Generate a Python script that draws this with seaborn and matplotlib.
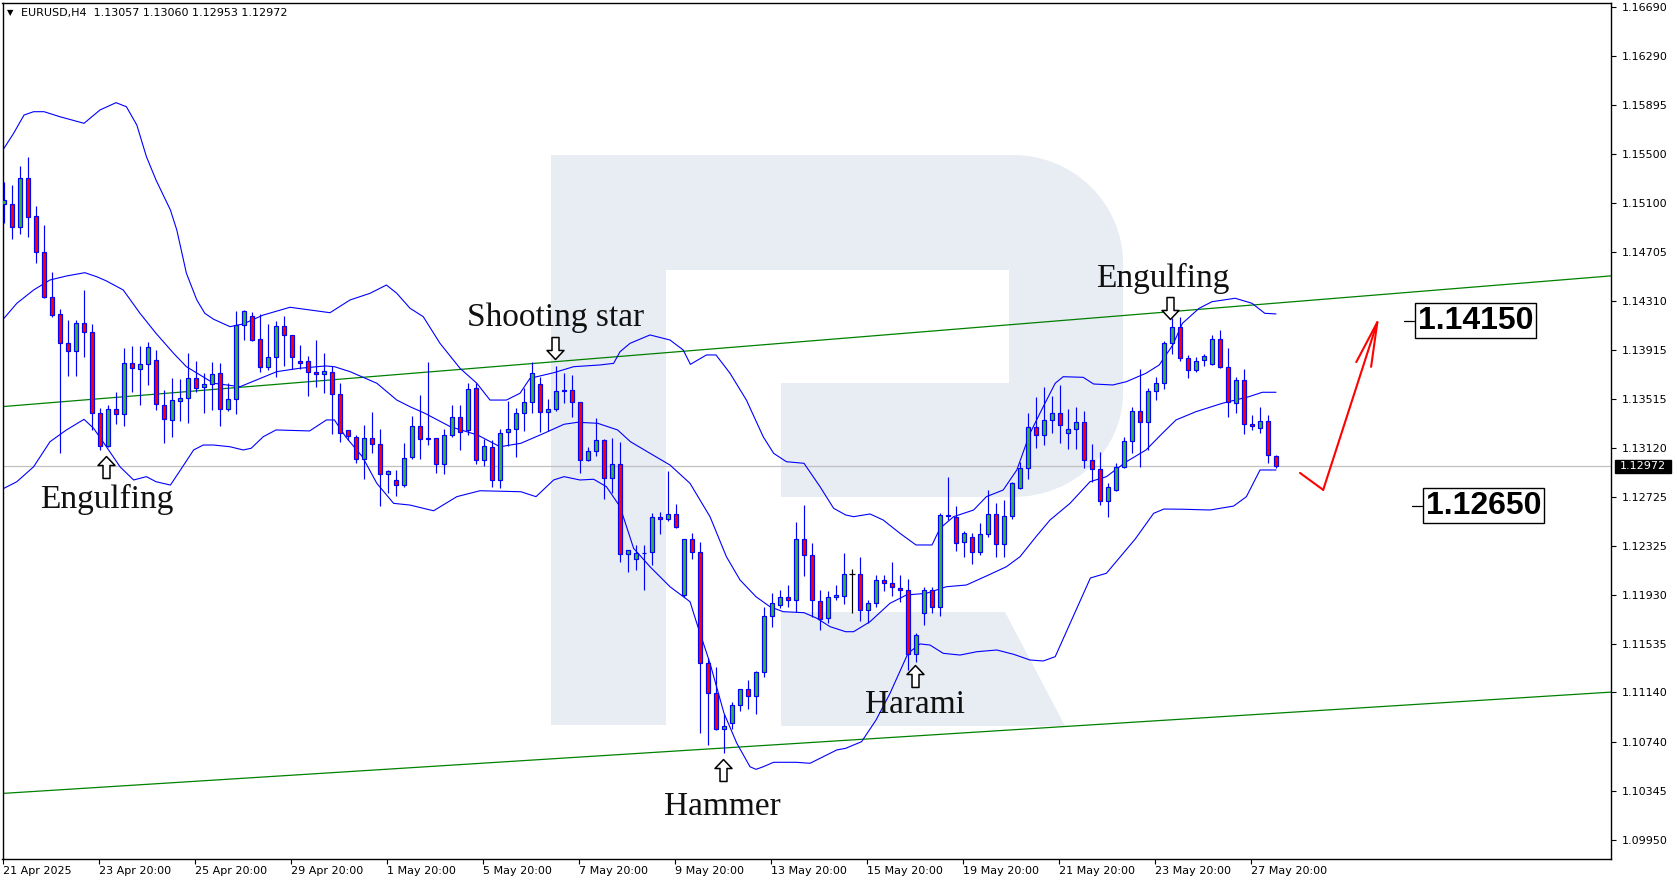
import numpy as np
import matplotlib
matplotlib.use("Agg")
import matplotlib.pyplot as plt
import seaborn as sns
from matplotlib.path import Path
from matplotlib.patches import PathPatch, Rectangle
from matplotlib.transforms import Affine2D, blended_transform_factory

# ---------------- data (EURUSD H4) ----------------
opens = [1.15094,1.15091,1.14905,1.15302,1.14994,1.14703,1.14339,1.14201,1.13966,1.13902,
         1.14128,1.14055,1.13400,1.13135,1.13432,1.13392,1.13804,1.13761,1.13796,1.13829,
         1.13467,1.13343,1.13502,1.13521,1.13683,1.13610,1.13637,1.13724,1.13432,1.13513,
         1.14112,1.14185,1.13999,1.13777,1.13853,1.14104,1.14031,1.13821,1.13821,1.13732,
         1.13715,1.13732,1.13553,1.13262,1.13210,1.13027,1.13197,1.13149,1.12908,1.12860,
         1.12817,1.13044,1.13297,1.13189,1.13197,1.12989,1.13222,1.13372,1.13265,1.13602,
         1.13022,1.13127,1.12860,1.13246,1.13270,1.13400,1.13489,1.13635,1.13408,1.13432,
         1.13580,1.13588,1.13489,1.13019,1.13097,1.13181,1.12874,1.12992,1.12259,1.12218,
         1.12267,1.12275,1.12558,1.12542,1.12585,1.11927,1.12380,1.12275,1.11376,1.11133,
         1.10842,1.10891,1.11036,1.11166,1.11114,1.11306,1.11759,1.11846,1.11915,1.11889,
         1.12380,1.12250,1.11883,1.11741,1.11910,1.11923,1.12097,1.12097,1.11808,1.11862,
         1.12051,1.12024,1.11983,1.11970,1.11449,1.11781,1.11970,1.11834,1.12577,1.12563,
         1.12358,1.12401,1.12275,1.12420,1.12585,1.12342,1.12569,1.12793,1.12955,1.13286,
         1.13224,1.13346,1.13400,1.13238,1.13270,1.13327,1.13022,1.12947,1.12690,1.12779,
         1.12967,1.13173,1.13418,1.13332,1.13580,1.13643,1.13966,1.14100,1.13845,1.13750,
         1.13831,1.13796,1.13999,1.13777,1.13481,1.13669,1.13311,1.13278,1.13340,1.13057]
highs = [1.15272,1.15248,1.15401,1.15472,1.15078,1.14924,1.14541,1.14242,1.14155,1.14155,
         1.14398,1.14120,1.13440,1.13467,1.13570,1.13931,1.13945,1.13945,1.13974,1.13912,
         1.13588,1.13683,1.13675,1.13885,1.13823,1.13724,1.13817,1.13804,1.13647,1.14228,
         1.14235,1.14220,1.14204,1.14123,1.14147,1.14187,1.14035,1.13953,1.13864,1.13993,
         1.13885,1.13783,1.13643,1.13265,1.13222,1.13305,1.13408,1.13273,1.12941,1.12941,
         1.13162,1.13378,1.13545,1.13813,1.13200,1.13270,1.13467,1.13467,1.13643,1.13643,
         1.13189,1.13184,1.13270,1.13499,1.13445,1.13607,1.13813,1.13696,1.13513,1.13783,
         1.13728,1.13710,1.13492,1.13129,1.13359,1.13189,1.13200,1.13165,1.12296,1.12334,
         1.12334,1.12595,1.12603,1.12933,1.12666,1.12385,1.12433,1.12358,1.11417,1.11349,
         1.10966,1.11063,1.11170,1.11241,1.11316,1.11834,1.11943,1.11970,1.12010,1.12518,
         1.12657,1.12348,1.11970,1.11964,1.12010,1.12271,1.12137,1.12237,1.11889,1.12091,
         1.12091,1.12199,1.12091,1.12059,1.11619,1.11991,1.11991,1.12590,1.12887,1.12649,
         1.12450,1.12428,1.12514,1.12779,1.12671,1.12698,1.12846,1.13008,1.13400,1.13529,
         1.13615,1.13540,1.13629,1.13432,1.13453,1.13418,1.13151,1.13084,1.12833,1.13000,
         1.13210,1.13453,1.13756,1.13602,1.13691,1.13985,1.14169,1.14182,1.13872,1.13853,
         1.13880,1.14034,1.14074,1.13926,1.13691,1.13756,1.13386,1.13448,1.13386,1.13060]
lows = [1.14940,1.14813,1.14851,1.14829,1.14614,1.14331,1.14177,1.13076,1.13704,1.13704,
        1.13858,1.13265,1.13103,1.13129,1.13313,1.13299,1.13575,1.13467,1.13629,1.13427,
        1.13157,1.13210,1.13340,1.13324,1.13575,1.13400,1.13427,1.13297,1.13420,1.13392,
        1.13993,1.13987,1.13737,1.13750,1.13696,1.13783,1.13756,1.13756,1.13542,1.13615,
        1.13562,1.13230,1.13165,1.13184,1.12995,1.12870,1.13076,1.12652,1.12752,1.12733,
        1.12806,1.13027,1.13027,1.13143,1.12919,1.12908,1.13210,1.13103,1.13224,1.12987,
        1.12976,1.12806,1.12793,1.13138,1.13048,1.13259,1.13400,1.13251,1.13259,1.13420,
        1.13481,1.13367,1.12914,1.13010,1.13057,1.12704,1.12752,1.12199,1.12118,1.12131,
        1.11970,1.12172,1.12423,1.12531,1.12469,1.11915,1.12218,1.10815,1.10715,1.10836,
        1.10653,1.10845,1.10990,1.11009,1.10964,1.11268,1.11673,1.11821,1.11830,1.11794,
        1.12085,1.11753,1.11646,1.11700,1.11889,1.11854,1.11786,1.11721,1.11700,1.11834,
        1.11964,1.11923,1.11875,1.11322,1.11389,1.11686,1.11781,1.11759,1.12536,1.12288,
        1.12234,1.12178,1.12253,1.12401,1.12234,1.12239,1.12544,1.12785,1.12866,1.13117,
        1.13143,1.13238,1.13157,1.13111,1.13111,1.12955,1.12846,1.12657,1.12558,1.12770,
        1.12960,1.13076,1.12967,1.13103,1.13507,1.13594,1.13877,1.13826,1.13688,1.13737,
        1.13783,1.13791,1.13769,1.13367,1.13405,1.13230,1.13265,1.13238,1.13000,1.12953]
closes = [1.15126,1.14905,1.15302,1.14991,1.14703,1.14339,1.14193,1.13966,1.13902,1.14128,
          1.14055,1.13400,1.13135,1.13432,1.13392,1.13804,1.13764,1.13796,1.13934,1.13473,
          1.13351,1.13507,1.13521,1.13683,1.13602,1.13637,1.13715,1.13432,1.13513,1.14112,
          1.14230,1.13993,1.13777,1.13853,1.14104,1.14031,1.13853,1.13809,1.13732,1.13715,
          1.13740,1.13553,1.13243,1.13216,1.13027,1.13197,1.13151,1.12908,1.12933,1.12817,
          1.13035,1.13297,1.13189,1.13197,1.12989,1.13222,1.13372,1.13251,1.13594,1.13022,
          1.13138,1.12860,1.13238,1.13270,1.13400,1.13489,1.13724,1.13408,1.13432,1.13580,
          1.13586,1.13489,1.13019,1.13097,1.13181,1.12874,1.12992,1.12259,1.12293,1.12267,
          1.12272,1.12558,1.12542,1.12585,1.12477,1.12380,1.12275,1.11376,1.11133,1.10842,
          1.10871,1.11036,1.11166,1.11114,1.11306,1.11759,1.11867,1.11915,1.11889,1.12380,
          1.12250,1.11889,1.11732,1.11910,1.11927,1.12097,1.12097,1.11808,1.11862,1.12051,
          1.12024,1.11991,1.11970,1.11449,1.11605,1.11970,1.11834,1.12577,1.12571,1.12348,
          1.12428,1.12275,1.12420,1.12585,1.12342,1.12569,1.12833,1.12955,1.13286,1.13224,
          1.13346,1.13400,1.13303,1.13270,1.13327,1.13022,1.12947,1.12690,1.12801,1.12967,
          1.13173,1.13418,1.13332,1.13580,1.13643,1.13966,1.14096,1.13845,1.13750,1.13826,
          1.13866,1.13999,1.13777,1.13489,1.13669,1.13311,1.13297,1.13340,1.13062,1.12972]

# Bollinger bands: (bar position, price)
bb_upper = [(0,1.15545),(1.2,1.15666),(2.5,1.15814),(3.7,1.15841),(5,1.15841),(7,1.15800),
            (10,1.15747),(12,1.15855),(14,1.15914),(15.3,1.15881),(16.6,1.15733),(17.8,1.15477),
            (19,1.15288),(20.8,1.15045),(21.6,1.14883),(22.8,1.14533),(24.1,1.14317),(25.1,1.14209),
            (26.2,1.14161),(28.25,1.14101),(29.9,1.14123),(32.4,1.14195),(35.75,1.14258),(38.25,1.14236),
            (40.75,1.14214),(43.25,1.14317),(45.75,1.14371),(47.8,1.14438),(49.1,1.14371),(50.75,1.14250),
            (52.4,1.14182),(54.5,1.13966),(57,1.13764),(59.1,1.13643),(60.75,1.13507),(62.8,1.13507),
            (64.5,1.13562),(65.75,1.13683),(68.7,1.13728),(71.2,1.13777),(74.5,1.13791),(76.2,1.13804),
            (77,1.13898),(78.25,1.13966),(80.75,1.14034),(83.25,1.13993),(84.9,1.13912),(85.8,1.13796),
            (87.8,1.13872),(89,1.13872),(90.75,1.13724),(92.8,1.13507),(94.9,1.13210),(96.2,1.13076),
            (97.8,1.13008),(100,1.12995),(102,1.12806),(103.7,1.12631),(105.2,1.12577),(106.2,1.12563),
            (108.25,1.12585),(109.9,1.12536),(112,1.12428),(114,1.12334),(116,1.12334),(117,1.12469),
            (118.7,1.12563),(121.2,1.12617),(122.8,1.12725),(124.9,1.12779),(126.6,1.12941),(128.25,1.13238),
            (129.9,1.13453),(131.4,1.13643),(132.4,1.13696),(134.9,1.13691),(136.2,1.13637),(138.6,1.13629),
            (140.3,1.13656),(142.75,1.13724),(144.4,1.13791),(146.1,1.13953),(147.3,1.14128),(149.4,1.14250),
            (151,1.14303),(153.9,1.14331),(156,1.14290),(157.6,1.14209),(159,1.14204)]
bb_middle = [(0,1.14169),(1.6,1.14290),(3.7,1.14398),(5.75,1.14479),(7.8,1.14511),(10.1,1.14538),
             (11.6,1.14505),(12.8,1.14471),(14.9,1.14398),(17,1.14209),(19,1.14047),(21.2,1.13885),
             (22.8,1.13777),(24.5,1.13710),(26.2,1.13643),(29.5,1.13615),(34.1,1.13737),(36.9,1.13764),
             (40.2,1.13783),(41.3,1.13777),(43.25,1.13737),(46.6,1.13643),(49.1,1.13507),(50.75,1.13453),
             (52.6,1.13400),(55.8,1.13291),(59.2,1.13224),(62,1.13129),(64.6,1.13157),(67.5,1.13238),
             (70,1.13311),(71.7,1.13327),(74.2,1.13319),(76.7,1.13265),(78.3,1.13170),(80.75,1.13076),
             (83.25,1.12981),(85.75,1.12833),(88.25,1.12563),(90.3,1.12239),(92,1.12051),(94,1.11915),
             (95.75,1.11834),(97.4,1.11794),(100,1.11786),(101.6,1.11741),(103.25,1.11673),(105.2,1.11632),
             (106.2,1.11632),(108.25,1.11713),(110.75,1.11862),(112.8,1.11929),(115.3,1.11943),(117.8,1.11996),
             (120.3,1.12010),(122.8,1.12083),(125.3,1.12158),(127,1.12239),(129,1.12401),(130.75,1.12536),
             (133.25,1.12671),(135.75,1.12846),(137.8,1.12887),(140.3,1.13008),(142.75,1.13103),(144.8,1.13238),
             (146.5,1.13346),(149,1.13413),(152.3,1.13481),(155.6,1.13534),(157.3,1.13570),(159,1.13570)]
bb_lower = [(0,1.12793),(1.6,1.12846),(3.7,1.12967),(5.75,1.13170),(7.8,1.13265),(10,1.13351),
            (11.2,1.13278),(12.8,1.13129),(14.5,1.12967),(16.2,1.12860),(17.8,1.12887),(19,1.12846),
            (20.8,1.12819),(22.2,1.12955),(23.7,1.13103),(24.9,1.13143),(26.2,1.13143),(28.25,1.13129),
            (29.9,1.13103),(30.9,1.13117),(32.4,1.13210),(34,1.13265),(38.2,1.13257),(40.3,1.13346),
            (41.3,1.13346),(42.7,1.13210),(44.8,1.13048),(46.6,1.12833),(48.7,1.12671),(50.75,1.12657),
            (52.4,1.12631),(53.7,1.12611),(56.6,1.12725),(59.5,1.12773),(64.6,1.12765),(66.5,1.12725),
            (68.7,1.12860),(70,1.12887),(72,1.12860),(73.7,1.12866),(75.3,1.12806),(77,1.12644),
            (78.7,1.12307),(80.75,1.12158),(83.25,1.11996),(85.75,1.11875),(86.6,1.11700),(88.25,1.11376),
            (90,1.10972),(91.6,1.10729),(93.25,1.10539),(94,1.10518),(94.9,1.10539),(96.2,1.10575),
            (99,1.10575),(100.75,1.10567),(102.4,1.10620),(104.1,1.10675),(105.2,1.10688),(107.2,1.10742),
            (109,1.10917),(110.75,1.11133),(113,1.11457),(114.5,1.11533),(115.75,1.11524),(117.4,1.11457),
            (119.5,1.11443),(121.6,1.11470),(124.1,1.11484),(126.2,1.11449),(128.25,1.11403),(129.9,1.11395),
            (131.4,1.11430),(135.8,1.12067),(137.8,1.12105),(141.4,1.12382),(143.7,1.12590),(145,1.12625),
            (147.5,1.12623),(150.75,1.12617),(153.7,1.12649),(155.3,1.12725),(157,1.12941),(159,1.12941)]

# channel trend lines (bar position, price)
trend_x = [-0.19, 200.875]
trend_upper = [1.13454, 1.14512]
trend_lower = [1.10323, 1.11143]

current_price = 1.12972
level_high = 1.14150
level_low = 1.12650

# red forecast path (bar position, price)
path_x = [162.0, 164.9, 171.9]
path_y = [1.12917, 1.12780, 1.14184]

# price axis labels and time axis labels
ytick_vals = [1.16690, 1.16290, 1.15895, 1.15500, 1.15100, 1.14705, 1.14310, 1.13915, 1.13515,
              1.13120, 1.12725, 1.12325, 1.11930, 1.11535, 1.11140, 1.10740, 1.10345, 1.09950]
xtick_labels = ["21 Apr 2025", "23 Apr 20:00", "25 Apr 20:00", "29 Apr 20:00", "1 May 20:00",
                "5 May 20:00", "7 May 20:00", "9 May 20:00", "13 May 20:00", "15 May 20:00",
                "19 May 20:00", "21 May 20:00", "23 May 20:00", "27 May 20:00"]
xtick_bars = [0, 12, 24, 36, 48, 60, 72, 84, 96, 108, 120, 132, 144, 156]

# pattern labels: (text, bar, baseline price) and arrows (bar, price, direction)
pattern_labels = [("Engulfing", 12.9, 1.12633), ("Shooting star", 69.0, 1.14106),
                  ("Hammer", 89.8, 1.10151), ("Harami", 113.9, 1.10978),
                  ("Engulfing", 144.9, 1.14420)]
pattern_arrows = [(12.8, 1.12969, "up"), (68.9, 1.13932, "down"), (89.9, 1.10512, "up"),
                  (113.9, 1.11274, "up"), (145.8, 1.14256, "down")]

# ---------------- figure ----------------
sns.set_theme(style="white")
plt.rcParams["font.family"] = ["DejaVu Sans"]

W, H = 1677, 882
fig = plt.figure(figsize=(W / 100, H / 100), dpi=100)
fig.patch.set_facecolor("white")
ax = fig.add_axes([2.5 / W, 1 - 858.7 / H, (1611 - 2.5) / W, (858.7 - 2.5) / H])
ax.set_facecolor("white")
ax.set_xlim(-0.19, 200.875)
ax.set_ylim(1.097947, 1.167248)

# watermark logo (figure pixel coordinates of the reference)
pix = Affine2D().scale(1 / W, -1 / H).translate(0, 1) + fig.transFigure
verts = [(551, 155), (1013, 155), (1074, 155), (1123, 204), (1123, 263), (1123, 393),
         (1123, 450), (1074, 497), (1013, 497), (781, 497), (781, 383), (1009, 383),
         (1009, 270), (666, 270), (666, 725), (551, 725), (551, 155),
         (781, 612), (1005, 612), (1065, 726), (781, 726), (781, 612)]
codes = [Path.MOVETO, Path.LINETO, Path.CURVE4, Path.CURVE4, Path.CURVE4, Path.LINETO,
         Path.CURVE4, Path.CURVE4, Path.CURVE4, Path.LINETO, Path.LINETO, Path.LINETO,
         Path.LINETO, Path.LINETO, Path.LINETO, Path.LINETO, Path.CLOSEPOLY,
         Path.MOVETO, Path.LINETO, Path.LINETO, Path.LINETO, Path.CLOSEPOLY]
logo = PathPatch(Path(verts, codes), facecolor="#e8ecf3", edgecolor="none",
                 transform=pix, zorder=0)
ax.add_patch(logo)

# current price line
ax.axhline(current_price, color="#c0c0c0", lw=0.9, zorder=1)

# channel
sns.lineplot(x=trend_x, y=trend_upper, ax=ax, color="#008000", lw=0.9, zorder=2)
sns.lineplot(x=trend_x, y=trend_lower, ax=ax, color="#008000", lw=0.9, zorder=2)

# Bollinger bands
for band in (bb_upper, bb_middle, bb_lower):
    bx = [p[0] for p in band]
    by = [p[1] for p in band]
    sns.lineplot(x=bx, y=by, ax=ax, color="#0000ff", lw=0.8, zorder=2,
                 estimator=None, sort=False)

# candles
o = np.array(opens); c = np.array(closes)
hi = np.maximum(np.array(highs), np.maximum(o, c))
lo = np.minimum(np.array(lows), np.minimum(o, c))
xi = np.arange(len(o))
up = c > o
dn = c < o
dj = c == o
ax.vlines(xi[~dj], lo[~dj], hi[~dj], color="#0000ff", lw=0.85, zorder=3)
ax.bar(xi[up], (c - o)[up], bottom=o[up], width=0.6, color="#33b533",
       edgecolor="#0000ff", linewidth=0.85, zorder=4)
ax.bar(xi[dn], (o - c)[dn], bottom=c[dn], width=0.6, color="#ff0000",
       edgecolor="#0000ff", linewidth=0.85, zorder=4)
ax.vlines(xi[dj], lo[dj], hi[dj], color="black", lw=0.85, zorder=4)
ax.hlines(o[dj], xi[dj] - 0.35, xi[dj] + 0.35, color="black", lw=0.9, zorder=4)

# pattern labels
for txt, bx, by in pattern_labels:
    ax.text(bx, by, txt, ha="center", va="baseline", fontsize=24,
            family=["Liberation Serif", "DejaVu Serif"], color="#111111", zorder=6)

arrow_up = Path([(0, 11), (8.5, 2), (3.5, 2), (3.5, -11), (-3.5, -11), (-3.5, 2), (-8.5, 2), (0, 11)],
                [Path.MOVETO] + [Path.LINETO] * 6 + [Path.CLOSEPOLY])
arrow_dn = Path([(0, -11), (8.5, -2), (3.5, -2), (3.5, 11), (-3.5, 11), (-3.5, -2), (-8.5, -2), (0, -11)],
                [Path.MOVETO] + [Path.LINETO] * 6 + [Path.CLOSEPOLY])
for bx, by, d in pattern_arrows:
    ax.plot([bx], [by], marker=arrow_up if d == "up" else arrow_dn, markersize=15.8,
            markerfacecolor="white", markeredgecolor="black", markeredgewidth=1.1,
            linestyle="none", zorder=6)

# red forecast arrow
ax.plot(path_x[:2], path_y[:2], color="#ff0000", lw=1.5, zorder=5, solid_capstyle="round")
ax.annotate("", xy=(path_x[2], path_y[2]), xytext=(path_x[1], path_y[1]),
            arrowprops=dict(arrowstyle="->,head_length=1.6,head_width=0.28", color="#ff0000",
                            lw=1.5, mutation_scale=20, shrinkA=0, shrinkB=0), zorder=5)

# level boxes
for lvl, bx0, bx1, tx in ((level_high, 175.0, 176.3, 176.7), (level_low, 176.0, 177.3, 177.7)):
    ax.plot([bx0, bx1], [lvl, lvl], color="black", lw=0.9, zorder=5)
    ax.text(tx, lvl, f"{lvl:.5f}", ha="left", va="center", fontsize=23, fontweight="bold",
            family=["Liberation Sans", "DejaVu Sans"], color="black", zorder=6,
            bbox=dict(boxstyle="square,pad=0.08", fc="white", ec="black", lw=1.0))

# axes styling
for s in ax.spines.values():
    s.set_color("black")
    s.set_linewidth(1.0)
    s.set_visible(True)
ax.yaxis.tick_right()
ax.set_yticks(ytick_vals)
ax.set_yticklabels([f"{v:.5f}" for v in ytick_vals])
ax.tick_params(axis="y", which="both", direction="out", length=3.5, width=0.8,
               pad=4, labelsize=8, right=True, left=False, colors="black")
ax.set_xticks([b - 0.15 for b in xtick_bars])
ax.set_xticklabels(xtick_labels)
ax.tick_params(axis="x", direction="out", length=3.5, width=0.8, pad=2, labelsize=8,
               bottom=True, colors="black")
for lab in ax.get_xticklabels():
    lab.set_ha("left")
ax.grid(False)

# current price tag on the price axis
bt = blended_transform_factory(ax.transAxes, ax.transData)
half = 0.000526
ax.add_patch(Rectangle((1 + 4 / 1608.5, current_price - half), 56 / 1608.5, 2 * half,
                       transform=bt, facecolor="black", edgecolor="black", clip_on=False, zorder=7))
ax.text(1 + 9 / 1608.5, current_price, f"{current_price:.5f}", transform=bt, ha="left",
        va="center", fontsize=8, color="white", clip_on=False, zorder=8)

# header
fig.text(10 / W, 1 - 12.5 / H, "\u25bc", fontsize=6, ha="center", va="center", color="black")
fig.text(21.4 / W, 1 - 12.7 / H, "EURUSD,H4  1.13057 1.13060 1.12953 1.12972",
         fontsize=8, ha="left", va="center", color="black")

fig.savefig("out.png", dpi=100, facecolor="white")
